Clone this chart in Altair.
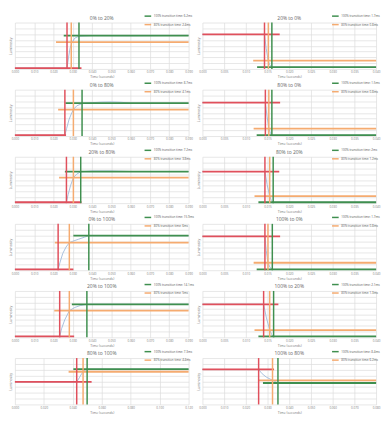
import altair as alt
import pandas as pd

TITLES = ["0% to 20%", "20% to 0%", "0% to 80%", "80% to 0%", "20% to 80%", "80% to 20%",
          "0% to 100%", "100% to 0%", "20% to 100%", "100% to 20%", "80% to 100%", "100% to 80%"]
LABEL_100 = ["6.2ms", "1.7ms", "8.7ms", "1.5ms", "7.2ms", "2ms",
             "15.9ms", "1.7ms", "14.1ms", "2.1ms", "7.3ms", "8.4ms"]
LABEL_80 = ["2.4ms", "0.8ms", "4.1ms", "0.8ms", "3.8ms", "1.2ms",
            "6ms", "0.8ms", "5ms", "1.3ms", "4.4ms", "6.2ms"]
X_MAX = [0.09, 0.04, 0.09, 0.04, 0.09, 0.04, 0.09, 0.04, 0.09, 0.04, 0.12, 0.08]
X_STEP = [0.01, 0.005, 0.01, 0.005, 0.01, 0.005, 0.01, 0.005, 0.01, 0.005, 0.02, 0.01]
T_START = [0.0270, 0.0143, 0.0259, 0.0145, 0.0267, 0.0144, 0.0224, 0.0144, 0.0232, 0.0141, 0.0427, 0.0259]
T_80 = [0.0292, 0.0152, 0.0303, 0.0153, 0.0303, 0.0155, 0.0282, 0.0151, 0.0282, 0.0155, 0.0471, 0.0323]
T_100 = [0.0332, 0.0160, 0.0348, 0.0160, 0.0341, 0.0163, 0.0383, 0.0161, 0.0373, 0.0164, 0.0499, 0.0348]
RED_END = [0.0345, 0.0178, 0.0265, 0.0179, 0.0345, 0.0177, 0.0303, 0.0179, 0.0307, 0.0175, 0.0530, 0.0330]
GREEN_FROM = [0.0253, 0.0126, 0.0262, 0.0125, 0.0259, 0.0129, 0.0303, 0.0125, 0.0295, 0.0129, 0.0404, 0.0279]
ORANGE_FROM = [0.0213, 0.0117, 0.0224, 0.0118, 0.0229, 0.0120, 0.0207, 0.0118, 0.0204, 0.0120, 0.0371, 0.0256]
Y_START = [0.15, 5.95, 0.15, 5.78, 0.15, 5.45, 0.15, 5.84, 0.15, 5.70, 3.88, 6.03]
Y_END = [5.76, 0.30, 5.66, 0.15, 5.45, 0.15, 5.96, 0.15, 5.70, 0.15, 6.08, 3.70]
Y_80 = [4.64, 1.43, 4.56, 1.28, 4.39, 1.21, 4.75, 1.29, 4.59, 1.26, 5.64, 4.17]

CURVE_T = [
    [0, 0.0270, 0.0278, 0.0286, 0.0295, 0.0310, 0.0332, 0.040, 0.060, 0.090],
    [0, 0.0143, 0.0147, 0.0151, 0.0155, 0.0160, 0.040],
    [0, 0.0259, 0.0268, 0.0280, 0.0292, 0.0303, 0.0320, 0.0348, 0.040, 0.045, 0.050, 0.055, 0.060, 0.090],
    [0, 0.0145, 0.0149, 0.0153, 0.0157, 0.0160, 0.040],
    [0, 0.0267, 0.0276, 0.0288, 0.0303, 0.0320, 0.0341, 0.040, 0.050, 0.060, 0.090],
    [0, 0.0144, 0.0149, 0.0155, 0.0159, 0.0163, 0.040],
    [0, 0.0224, 0.0234, 0.0248, 0.0265, 0.0282, 0.0300, 0.0330, 0.0360, 0.0383, 0.090],
    [0, 0.0144, 0.0147, 0.0151, 0.0156, 0.0161, 0.040],
    [0, 0.0232, 0.0242, 0.0258, 0.0282, 0.0310, 0.0340, 0.0373, 0.090],
    [0, 0.0141, 0.0147, 0.0155, 0.0160, 0.0164, 0.040],
    [0, 0.0427, 0.0445, 0.0460, 0.0471, 0.0485, 0.0499, 0.120],
    [0, 0.0259, 0.0275, 0.0295, 0.0323, 0.0348, 0.080],
]
CURVE_V = [
    [0.15, 0.15, 2.0, 3.6, 4.5, 5.3, 5.65, 5.75, 5.72, 5.78],
    [5.95, 5.95, 3.5, 1.6, 0.7, 0.3, 0.3],
    [0.15, 0.15, 1.3, 2.8, 3.8, 4.56, 5.2, 5.6, 5.75, 5.85, 5.88, 5.82, 5.68, 5.66],
    [5.78, 5.78, 3.3, 1.28, 0.45, 0.15, 0.15],
    [0.15, 0.15, 1.5, 3.0, 4.39, 5.0, 5.4, 5.55, 5.55, 5.45, 5.45],
    [5.45, 5.45, 3.2, 1.21, 0.45, 0.15, 0.15],
    [0.15, 0.15, 1.4, 2.9, 4.0, 4.75, 5.0, 5.35, 5.7, 5.96, 5.96],
    [5.84, 5.84, 3.4, 1.29, 0.45, 0.15, 0.15],
    [0.15, 0.15, 1.5, 3.0, 4.59, 5.15, 5.5, 5.7, 5.7],
    [5.7, 5.7, 3.5, 1.26, 0.45, 0.15, 0.15],
    [3.88, 3.88, 4.6, 5.25, 5.64, 5.9, 6.08, 6.08],
    [6.03, 6.03, 5.3, 4.7, 4.17, 3.7, 3.7],
]

RED = "#e0505c"
GREEN = "#3f8f4f"
ORANGE = "#f5ab70"
BLUE = "#93b1d6"
W, H = 176, 47
FONT = "Open Sans"


def panel(i):
    xs = alt.Scale(domain=[0, X_MAX[i]], nice=False, zero=False)
    ys = alt.Scale(domain=[0, 8], nice=False)
    n = int(round(X_MAX[i] / X_STEP[i]))
    ticks = [round(k * X_STEP[i], 4) for k in range(n + 1)]
    xax = alt.Axis(values=ticks, format=".3f", title="Time (seconds)", grid=True,
                   ticks=False, domain=False, labelFlush=False, labelPadding=2,
                   titlePadding=1, labelOverlap=False, labelSeparation=0)
    yax = alt.Axis(values=list(range(9)), labels=False, ticks=False, domain=False,
                   title="Luminosity", grid=True, titlePadding=2)

    def X(field):
        return alt.X(field, scale=xs, axis=xax)

    def Y(field):
        return alt.Y(field, scale=ys, axis=yax)

    curve = pd.DataFrame({"t": CURVE_T[i], "v": CURVE_V[i]})
    c_line = alt.Chart(curve).mark_line(color=BLUE, strokeWidth=0.8).encode(
        x=X("t:Q"), y=Y("v:Q"))

    lab100 = "100% transition time: " + LABEL_100[i]
    lab80 = "80% transition time: " + LABEL_80[i]
    hz = pd.DataFrame({"series": [lab100, lab80],
                       "x0": [GREEN_FROM[i], ORANGE_FROM[i]],
                       "x1": [X_MAX[i], X_MAX[i]],
                       "y": [Y_END[i], Y_80[i]]})
    hz_rule = alt.Chart(hz).mark_rule(strokeWidth=1.8).encode(
        x=X("x0:Q"), x2="x1:Q", y=Y("y:Q"),
        color=alt.Color("series:N",
                        scale=alt.Scale(domain=[lab100, lab80], range=[GREEN, ORANGE]),
                        legend=alt.Legend(title=None, orient="none", legendX=W * 0.74,
                                          legendY=-11, symbolType="stroke",
                                          symbolStrokeWidth=1.5, symbolSize=45,
                                          labelFontSize=3, labelColor="#555",
                                          rowPadding=0.6, labelOffset=1.5, padding=0,
                                          labelLimit=200)))

    red = pd.DataFrame({"x0": [0], "x1": [RED_END[i]], "y": [Y_START[i]]})
    red_rule = alt.Chart(red).mark_rule(color=RED, strokeWidth=1.8).encode(
        x=X("x0:Q"), x2="x1:Q", y=Y("y:Q"))

    v_red = alt.Chart(pd.DataFrame({"t": [T_START[i]]})).mark_rule(
        color=RED, strokeWidth=1.5).encode(x=X("t:Q"))
    v_or = alt.Chart(pd.DataFrame({"t": [T_80[i]]})).mark_rule(
        color=ORANGE, strokeWidth=1.5).encode(x=X("t:Q"))
    v_gr = alt.Chart(pd.DataFrame({"t": [T_100[i]]})).mark_rule(
        color=GREEN, strokeWidth=1.5).encode(x=X("t:Q"))

    return alt.layer(c_line, red_rule, hz_rule, v_red, v_or, v_gr).properties(
        width=W, height=H,
        title=alt.TitleParams(TITLES[i], fontSize=5, color="#666", fontWeight="normal",
                              offset=-9, anchor="middle", font=FONT))


rows = []
for r in range(6):
    rows.append(alt.hconcat(panel(2 * r), panel(2 * r + 1), spacing=14, bounds="flush")
                .resolve_scale(color="independent", x="independent", y="independent")
                .resolve_legend(color="independent"))

chart = alt.vconcat(*rows, spacing=0).resolve_scale(
    color="independent", x="independent", y="independent"
).resolve_legend(color="independent").configure_view(stroke=None).configure_axis(
    gridColor="#dcdcdc", gridWidth=0.7, labelFontSize=3, titleFontSize=3.5,
    labelColor="#777", titleColor="#777", titleFontWeight="normal", labelFont=FONT,
    titleFont=FONT
).configure_axisX(labelOverlap=False, labelSeparation=0).configure_legend(
    labelFont=FONT).properties(padding=1, background="white")

chart.save("out.html", embed_options={"renderer": "svg", "actions": False})
